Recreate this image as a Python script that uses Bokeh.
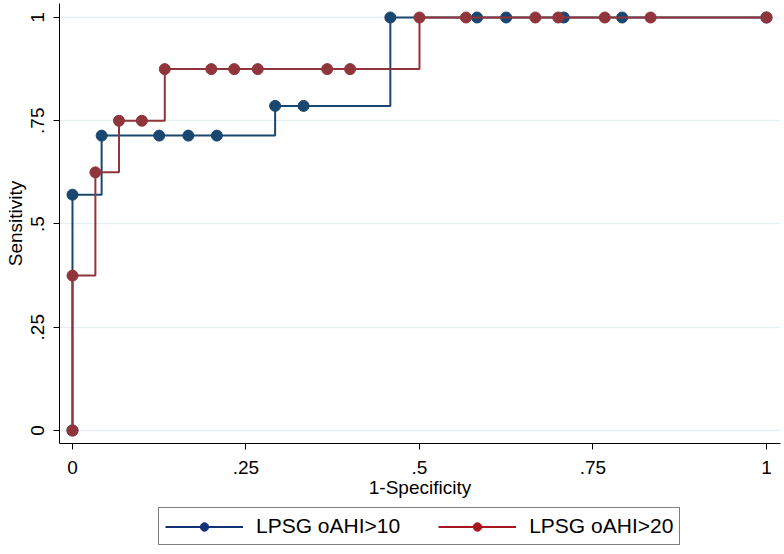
from bokeh.plotting import figure
from bokeh.layouts import column
from bokeh.models import Legend, LegendItem, Range1d, FixedTicker
from bokeh.embed import file_html
from bokeh.resources import INLINE

# Data
blue_x = [0, 0, 0.042, 0.125, 0.167, 0.208, 0.292, 0.333, 0.458, 0.583, 0.625, 0.708, 0.792, 1.0]
blue_y = [0, 0.571, 0.714, 0.714, 0.714, 0.714, 0.786, 0.786, 1, 1, 1, 1, 1, 1]
red_x = [0, 0, 0.033, 0.067, 0.1, 0.133, 0.2, 0.233, 0.267, 0.367, 0.4, 0.5, 0.567, 0.667, 0.7, 0.767, 0.833, 1.0]
red_y = [0, 0.375, 0.625, 0.75, 0.75, 0.875, 0.875, 0.875, 0.875, 0.875, 0.875, 1, 1, 1, 1, 1, 1, 1]
series_names = ["LPSG oAHI>10", "LPSG oAHI>20"]
tick_vals = [0, 0.25, 0.5, 0.75, 1]
tick_labels = ["0", ".25", ".5", ".75", "1"]

BLUE = "#1a476f"
RED = "#90353b"
LEG_BLUE = "#123277"
LEG_RED = "#aa1620"
FONT = "Liberation Sans"

p = figure(width=784, height=505, output_backend="svg", toolbar_location=None,
           x_range=Range1d(-0.0187, 1.0202), y_range=Range1d(-0.0315, 1.0339),
           min_border_left=59, min_border_right=4, min_border_top=3, min_border_bottom=62)
p.outline_line_color = None
p.background_fill_color = "white"
p.border_fill_color = "white"

p.xgrid.visible = False
p.ygrid.grid_line_color = "#e6eff1"
p.ygrid.grid_line_width = 1.5
p.ygrid.ticker = FixedTicker(ticks=tick_vals)

for ax in (p.xaxis, p.yaxis):
    ax.ticker = FixedTicker(ticks=tick_vals)
    ax.major_label_overrides = {v: s for v, s in zip(tick_vals, tick_labels)}
    ax.minor_tick_line_color = None
    ax.major_tick_in = 0
    ax.major_tick_out = 6
    ax.axis_line_color = "black"
    ax.major_tick_line_color = "black"
    ax.major_label_text_font = FONT
    ax.major_label_text_font_size = "19px"
    ax.major_label_text_color = "black"
    ax.axis_label_text_font = FONT
    ax.axis_label_text_font_size = "19px"
    ax.axis_label_text_font_style = "normal"
    ax.axis_label_text_color = "black"

p.xaxis.axis_label = "1-Specificity"
p.yaxis.axis_label = "Sensitivity"
p.xaxis.major_label_standoff = 11
p.xaxis.axis_label_standoff = 0
p.yaxis.major_label_standoff = 9
p.yaxis.axis_label_standoff = 3
p.yaxis.major_label_orientation = "vertical"

# Series 1
p.step(blue_x, blue_y, mode="after", line_color=BLUE, line_width=2)
p.scatter(blue_x, blue_y, size=11, fill_color=BLUE, line_color=BLUE)
# Series 2
p.step(red_x, red_y, mode="after", line_color=RED, line_width=2)
p.scatter(red_x, red_y, size=11, fill_color=RED, line_color=RED)

# Legend strip below the chart
lf = figure(width=784, height=49, output_backend="svg", toolbar_location=None,
            x_range=Range1d(0, 1), y_range=Range1d(0, 1),
            x_axis_location=None, y_axis_location=None,
            min_border_left=0, min_border_right=0, min_border_top=0, min_border_bottom=0)
lf.outline_line_color = None
lf.xgrid.visible = False
lf.ygrid.visible = False
lf.background_fill_color = "white"
lf.border_fill_color = "white"

nan = [float("nan")]
lb = lf.line(nan, nan, line_color=LEG_BLUE, line_width=2)
sb = lf.scatter(nan, nan, size=10, fill_color=LEG_BLUE, line_color=LEG_BLUE)
lr = lf.line(nan, nan, line_color=LEG_RED, line_width=2)
sr = lf.scatter(nan, nan, size=10, fill_color=LEG_RED, line_color=LEG_RED)

legend = Legend(items=[LegendItem(label=series_names[0], renderers=[lb, sb]),
                       LegendItem(label=series_names[1], renderers=[lr, sr])],
                orientation="horizontal", location=(99, 9),
                border_line_color="black", border_line_width=1,
                label_text_font=FONT, label_text_font_size="21px",
                label_text_color="black",
                glyph_width=78, glyph_height=21, label_height=21,
                label_standoff=13, spacing=38, padding=6, margin=0)
lf.add_layout(legend, "center")

layout = column(p, lf, spacing=0)
open("out.html", "w").write(file_html(layout, INLINE))
